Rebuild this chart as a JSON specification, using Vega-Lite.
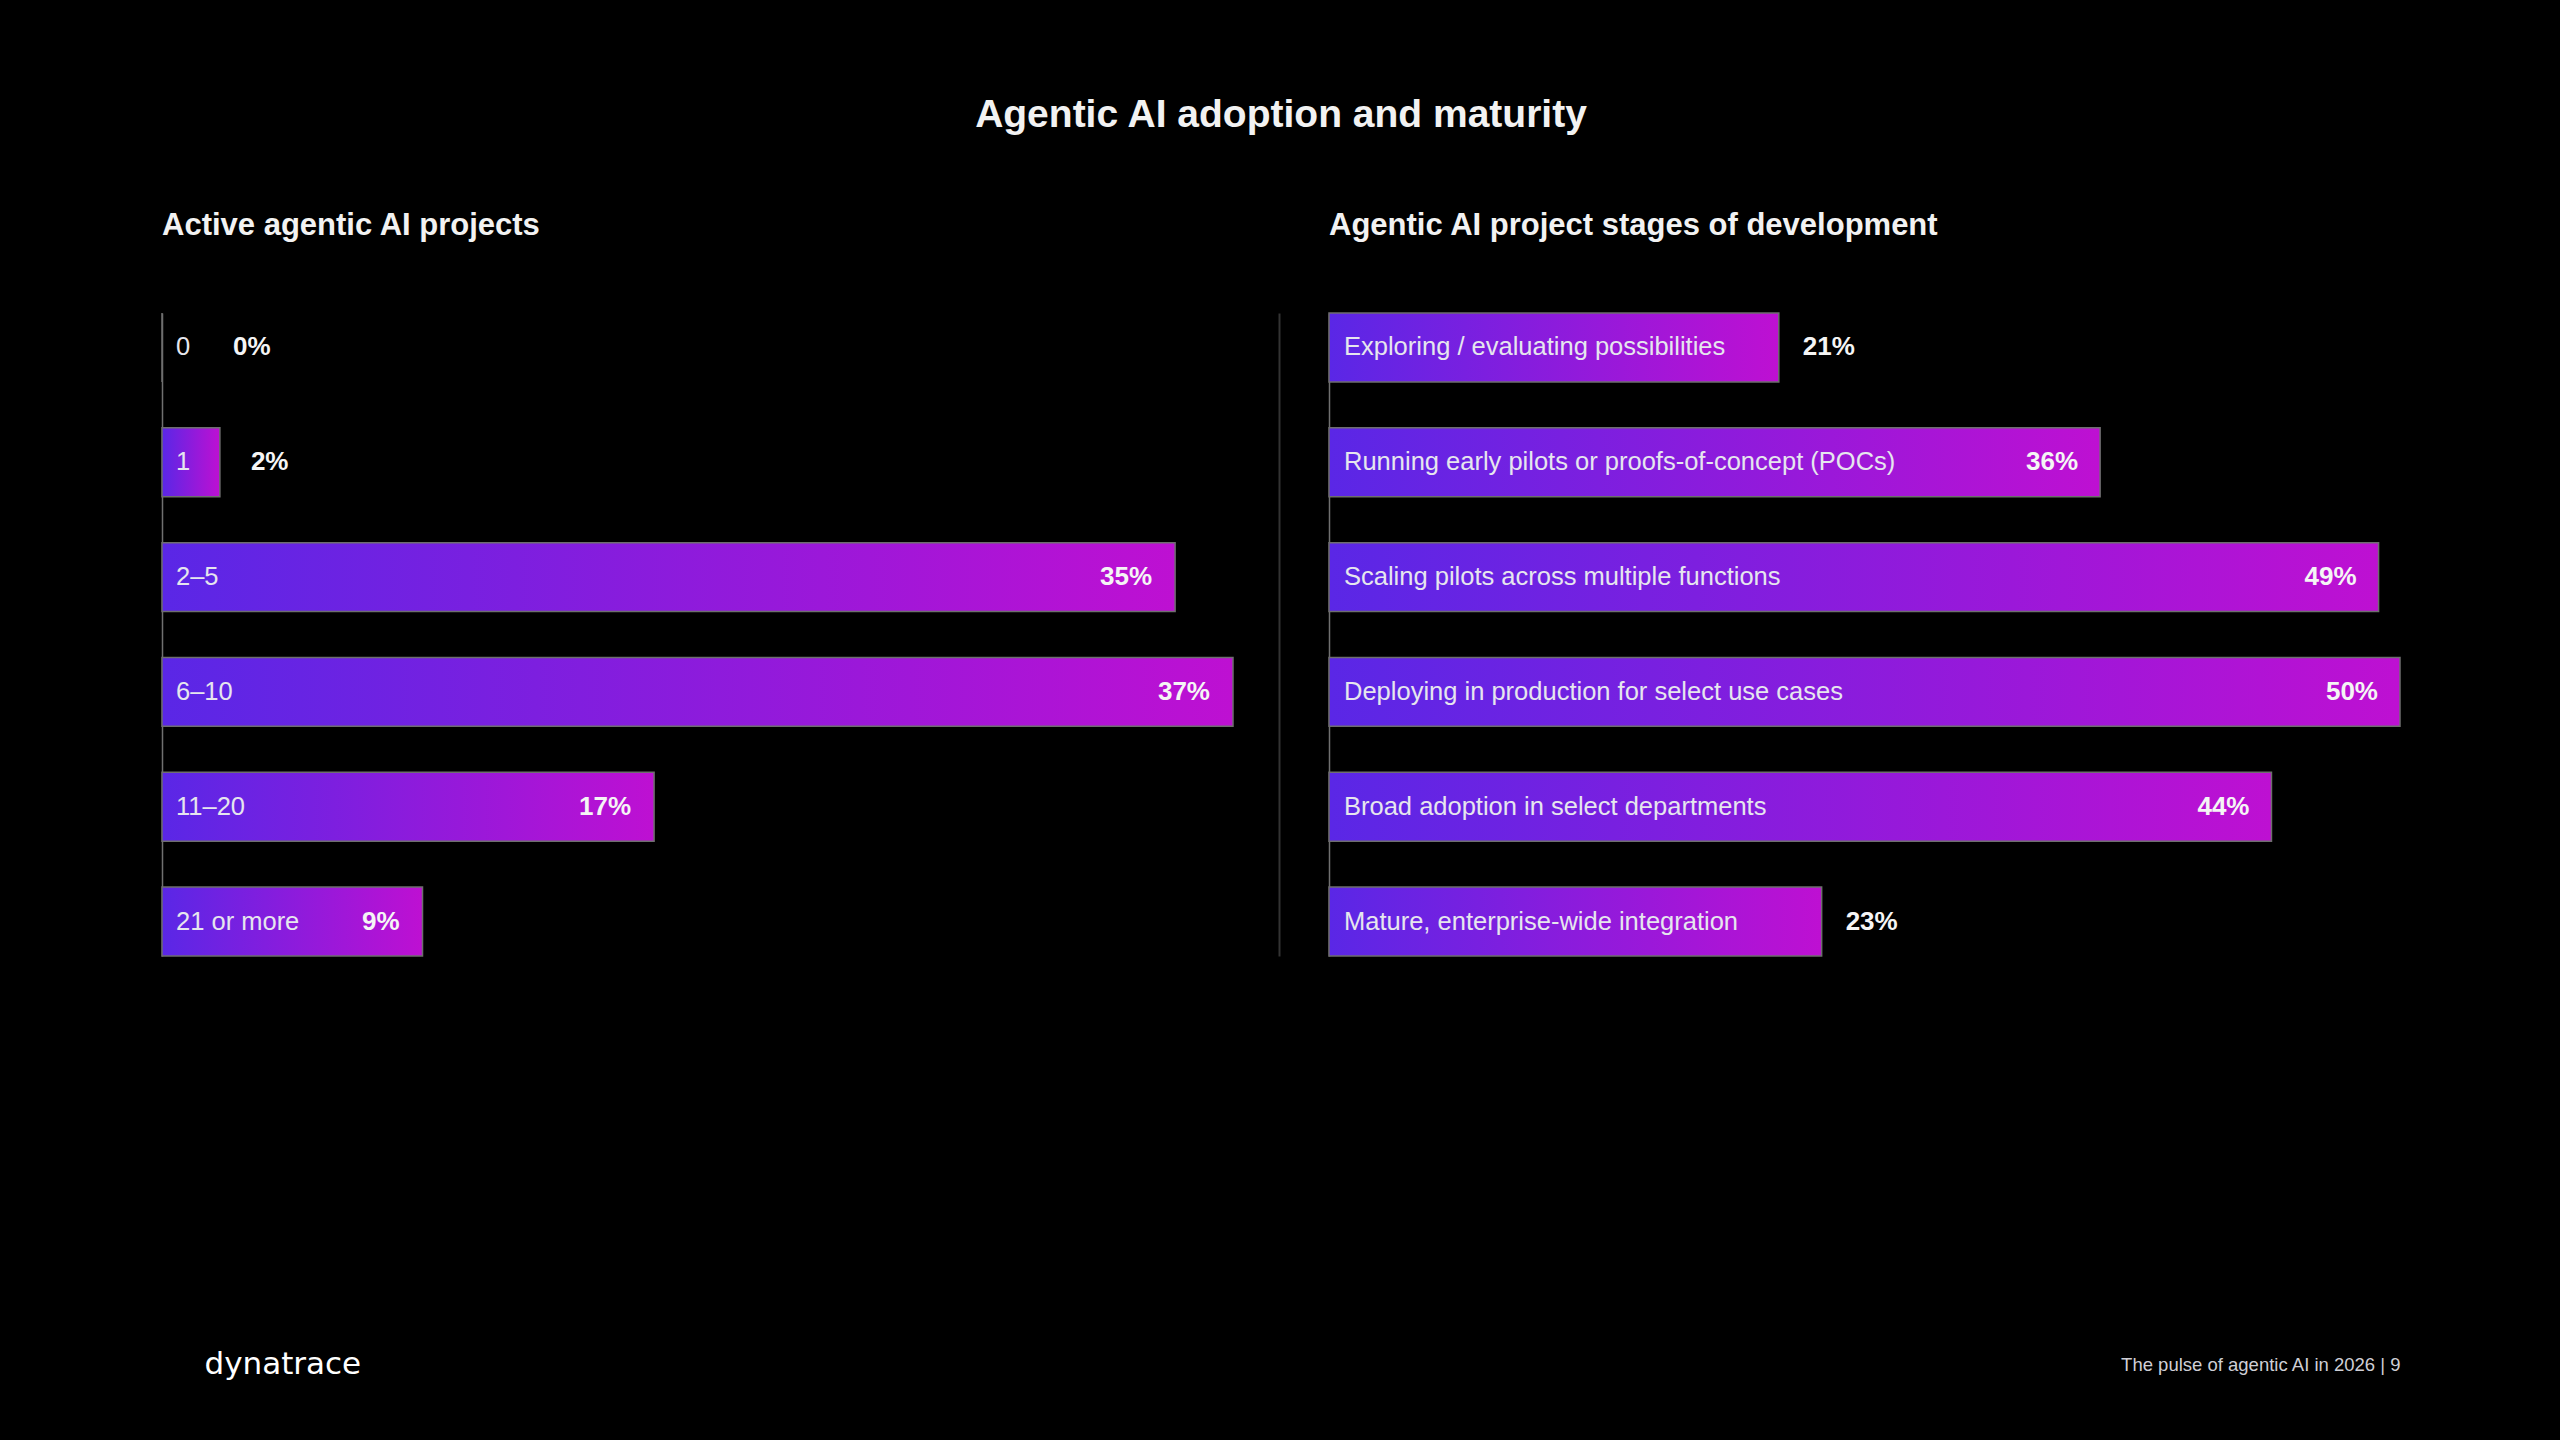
{
  "$schema": "https://vega.github.io/schema/vega-lite/v6.json",
  "background": "#000000",
  "padding": {"left": 161, "top": 96, "right": 161, "bottom": 66},
  "bounds": "flush",
  "spacing": 96,
  "title": {"text": "Agentic AI adoption and maturity", "anchor": "middle", "frame": "bounds", "font": "Liberation Sans", "fontSize": 39, "fontWeight": "bold", "color": "#f2f2f2", "baseline": "alphabetic", "offset": 44},
  "config": {
    "view": {"stroke": null},
    "axis": {"labels": false, "ticks": false, "domain": false, "grid": false, "title": null}
  },
  "resolve": {"scale": {"x": "independent", "y": "independent"}},
  "hconcat": [
    {
      "width": 1071,
      "height": 643,
      "title": {"text": "Active agentic AI projects", "anchor": "start", "frame": "group", "font": "Liberation Sans", "fontSize": 31, "fontWeight": "bold", "color": "#f2f2f2", "baseline": "alphabetic", "offset": 46},
      "data": {"values": [
        {"projects": "0", "value": 0.00},
        {"projects": "1", "value": 0.02},
        {"projects": "2–5", "value": 0.35},
        {"projects": "6–10", "value": 0.37},
        {"projects": "11–20", "value": 0.17},
        {"projects": "21 or more", "value": 0.09}
      ]},
      "resolve": {"axis": {"y": "independent"}},
      "layer": [
        {
          "mark": {"type": "bar", "fill": {"gradient": "linear", "x1": 0, "y1": 0, "x2": 1, "y2": 0, "stops": [{"offset": 0, "color": "#5a27e6"}, {"offset": 1, "color": "#be10d2"}]}, "stroke": "#6e6e6e", "strokeWidth": 1.5},
          "encoding": {
            "y": {"field": "projects", "type": "nominal", "sort": null, "scale": {"domain": ["0", "1", "2–5", "6–10", "11–20", "21 or more"], "paddingInner": 0.4, "paddingOuter": 0}, "axis": {"domain": true, "domainColor": "#707070", "domainWidth": 1.5}},
            "x": {"field": "value", "type": "quantitative", "scale": {"domain": [0, 0.37], "nice": false}, "axis": {"title": "dynatrace", "titleAnchor": "start", "titleAlign": "left", "titleX": 42, "titleY": 408, "titleBaseline": "middle", "titleFont": "DejaVu Sans", "titleFontSize": 31, "titleFontWeight": "normal", "titleColor": "#ffffff"}}
          }
        },
        {
          "mark": {"type": "text", "align": "left", "baseline": "middle", "dx": 14, "font": "Liberation Sans", "fontSize": 25.5, "color": "#e6e6ee"},
          "encoding": {
            "y": {"field": "projects", "type": "nominal", "sort": null, "axis": {"orient": "right", "offset": 46, "domain": true, "domainColor": "#333333", "domainWidth": 2}},
            "x": {"datum": 0, "type": "quantitative"},
            "text": {"field": "projects", "type": "nominal"}
          }
        },
        {
          "transform": [{"filter": "datum.value >= 0.05"}],
          "mark": {"type": "text", "align": "right", "baseline": "middle", "dx": -23, "font": "Liberation Sans", "fontSize": 26, "fontWeight": "bold", "color": "#f5f5f5"},
          "encoding": {
            "y": {"field": "projects", "type": "nominal", "sort": null, "axis": null},
            "x": {"field": "value", "type": "quantitative"},
            "text": {"field": "value", "type": "quantitative", "format": ".0%"}
          }
        },
        {
          "transform": [{"filter": "datum.value > 0 && datum.value < 0.05"}],
          "mark": {"type": "text", "align": "left", "baseline": "middle", "dx": 31, "font": "Liberation Sans", "fontSize": 26, "fontWeight": "bold", "color": "#f5f5f5"},
          "encoding": {
            "y": {"field": "projects", "type": "nominal", "sort": null, "axis": null},
            "x": {"field": "value", "type": "quantitative"},
            "text": {"field": "value", "type": "quantitative", "format": ".0%"}
          }
        },
        {
          "transform": [{"filter": "datum.value == 0"}],
          "mark": {"type": "text", "align": "left", "baseline": "middle", "dx": 71, "font": "Liberation Sans", "fontSize": 26, "fontWeight": "bold", "color": "#f5f5f5"},
          "encoding": {
            "y": {"field": "projects", "type": "nominal", "sort": null, "axis": null},
            "x": {"field": "value", "type": "quantitative"},
            "text": {"field": "value", "type": "quantitative", "format": ".0%"}
          }
        }
      ]
    },
    {
      "width": 1071,
      "height": 643,
      "title": {"text": "Agentic AI project stages of development", "anchor": "start", "frame": "group", "font": "Liberation Sans", "fontSize": 31, "fontWeight": "bold", "color": "#f2f2f2", "baseline": "alphabetic", "offset": 46},
      "data": {"values": [
        {"stage": "Exploring / evaluating possibilities", "value": 0.21},
        {"stage": "Running early pilots or proofs-of-concept (POCs)", "value": 0.36},
        {"stage": "Scaling pilots across multiple functions", "value": 0.49},
        {"stage": "Deploying in production for select use cases", "value": 0.50},
        {"stage": "Broad adoption in select departments", "value": 0.44},
        {"stage": "Mature, enterprise-wide integration", "value": 0.23}
      ]},
      "layer": [
        {
          "mark": {"type": "bar", "fill": {"gradient": "linear", "x1": 0, "y1": 0, "x2": 1, "y2": 0, "stops": [{"offset": 0, "color": "#5a27e6"}, {"offset": 1, "color": "#be10d2"}]}, "stroke": "#6e6e6e", "strokeWidth": 1.5},
          "encoding": {
            "y": {"field": "stage", "type": "nominal", "sort": null, "scale": {"domain": ["Exploring / evaluating possibilities", "Running early pilots or proofs-of-concept (POCs)", "Scaling pilots across multiple functions", "Deploying in production for select use cases", "Broad adoption in select departments", "Mature, enterprise-wide integration"], "paddingInner": 0.4, "paddingOuter": 0}, "axis": {"domain": true, "domainColor": "#707070", "domainWidth": 1.5}},
            "x": {"field": "value", "type": "quantitative", "scale": {"domain": [0, 0.5], "nice": false}, "axis": {"title": "The pulse of agentic AI in 2026 | 9", "titleAnchor": "end", "titleAlign": "right", "titleX": 1071, "titleY": 408, "titleBaseline": "middle", "titleFont": "Liberation Sans", "titleFontSize": 18.5, "titleFontWeight": "normal", "titleColor": "#cfcfd6"}}
          }
        },
        {
          "mark": {"type": "text", "align": "left", "baseline": "middle", "dx": 15, "font": "Liberation Sans", "fontSize": 25.5, "color": "#e6e6ee"},
          "encoding": {
            "y": {"field": "stage", "type": "nominal", "sort": null},
            "x": {"datum": 0, "type": "quantitative"},
            "text": {"field": "stage", "type": "nominal"}
          }
        },
        {
          "transform": [{"filter": "datum.value >= 0.3"}],
          "mark": {"type": "text", "align": "right", "baseline": "middle", "dx": -22, "font": "Liberation Sans", "fontSize": 26, "fontWeight": "bold", "color": "#f5f5f5"},
          "encoding": {
            "y": {"field": "stage", "type": "nominal", "sort": null},
            "x": {"field": "value", "type": "quantitative"},
            "text": {"field": "value", "type": "quantitative", "format": ".0%"}
          }
        },
        {
          "transform": [{"filter": "datum.value < 0.3"}],
          "mark": {"type": "text", "align": "left", "baseline": "middle", "dx": 24, "font": "Liberation Sans", "fontSize": 26, "fontWeight": "bold", "color": "#f5f5f5"},
          "encoding": {
            "y": {"field": "stage", "type": "nominal", "sort": null},
            "x": {"field": "value", "type": "quantitative"},
            "text": {"field": "value", "type": "quantitative", "format": ".0%"}
          }
        }
      ]
    }
  ]
}
